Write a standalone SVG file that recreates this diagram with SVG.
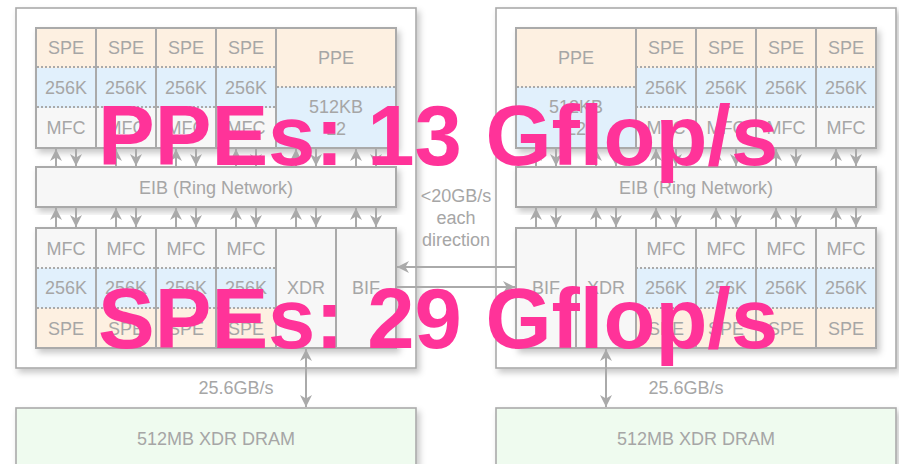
<svg xmlns="http://www.w3.org/2000/svg" width="899" height="464" viewBox="0 0 899 464">
<defs>
<filter id="sh" x="-10%" y="-10%" width="130%" height="130%">
<feDropShadow dx="3" dy="4" stdDeviation="3" flood-color="#000" flood-opacity="0.22"/>
</filter>
<marker id="ah" markerUnits="userSpaceOnUse" markerWidth="12" markerHeight="12" viewBox="0 0 10 10" refX="10" refY="5" orient="auto-start-reverse">
<path d="M0,0 L10,5 L0,10 L3,5 Z" fill="#aaaaaa"/>
</marker>
</defs>
<style>
.outer{fill:#fff;stroke:#aaaaaa;stroke-width:1.6}
.box{stroke:#aaaaaa;stroke-width:2}
.spe{fill:#fdf0e1}
.mem{fill:#e1f0fc}
.grey{fill:#f7f7f7}
.dram{fill:#effbef;stroke:#aaaaaa;stroke-width:1.6}
.dot{stroke:#aaaaaa;stroke-width:2;stroke-dasharray:2 2;fill:none}
.sep{stroke:#aaaaaa;stroke-width:2;fill:none}
.t{font-family:"Liberation Sans",Arial,sans-serif;font-size:18px;fill:#a6a6a6;text-anchor:middle}
.ar{stroke:#aaaaaa;stroke-width:2;fill:none;marker-end:url(#ah)}
.ar2{stroke:#aaaaaa;stroke-width:2;fill:none;marker-end:url(#ah);marker-start:url(#ah)}
.big{font-family:"Liberation Sans",Arial,sans-serif;font-size:85px;font-weight:bold;fill:#ff3399}
</style>

<!-- LEFT CHIP -->
<g id="chipL">
<rect class="outer" x="16" y="8" width="400" height="360" filter="url(#sh)"/>
</g>
<g id="topL">
<rect class="box grey" x="36" y="28" width="360" height="120" filter="url(#sh)"/>
<rect class="spe" x="36" y="28" width="240" height="40"/>
<rect class="mem" x="36" y="68" width="240" height="40"/>
<rect class="grey" x="36" y="108" width="240" height="40"/>
<rect class="spe" x="276" y="28" width="120" height="59"/>
<rect class="mem" x="276" y="87" width="120" height="61"/>
<line class="dot" x1="37" y1="67" x2="276" y2="67"/>
<line class="dot" x1="37" y1="107" x2="276" y2="107"/>
<line class="dot" x1="277" y1="87" x2="395" y2="87"/>
<path class="sep" d="M96,28V148M156,28V148M216,28V148M276,28V148"/>
<rect x="36" y="28" width="360" height="120" fill="none" stroke="#aaaaaa" stroke-width="2"/>
<text class="t" x="66" y="54">SPE</text><text class="t" x="126" y="54">SPE</text><text class="t" x="186" y="54">SPE</text><text class="t" x="246" y="54">SPE</text>
<text class="t" x="66" y="94">256K</text><text class="t" x="126" y="94">256K</text><text class="t" x="186" y="94">256K</text><text class="t" x="246" y="94">256K</text>
<text class="t" x="66" y="134">MFC</text><text class="t" x="126" y="134">MFC</text><text class="t" x="186" y="134">MFC</text><text class="t" x="246" y="134">MFC</text>
<text class="t" x="336" y="64">PPE</text>
<text class="t" x="336" y="113">512KB</text>
<text class="t" x="336" y="135">L2</text>
</g>
<g id="eibL">
<rect class="box grey" x="36" y="167" width="360" height="40" filter="url(#sh)"/>
<text class="t" x="216" y="194">EIB (Ring Network)</text>
</g>
<g id="botL">
<rect class="box grey" x="36" y="228" width="360" height="120" filter="url(#sh)"/>
<rect class="grey" x="36" y="228" width="240" height="40"/>
<rect class="mem" x="36" y="268" width="240" height="40"/>
<rect class="spe" x="36" y="308" width="240" height="40"/>
<line class="dot" x1="37" y1="268" x2="276" y2="268"/>
<line class="dot" x1="37" y1="308" x2="276" y2="308"/>
<path class="sep" d="M96,228V348M156,228V348M216,228V348M276,228V348M336,228V348"/>
<rect x="36" y="228" width="360" height="120" fill="none" stroke="#aaaaaa" stroke-width="2"/>
<text class="t" x="66" y="255">MFC</text><text class="t" x="126" y="255">MFC</text><text class="t" x="186" y="255">MFC</text><text class="t" x="246" y="255">MFC</text>
<text class="t" x="66" y="294">256K</text><text class="t" x="126" y="294">256K</text><text class="t" x="186" y="294">256K</text><text class="t" x="246" y="294">256K</text>
<text class="t" x="66" y="335">SPE</text><text class="t" x="126" y="335">SPE</text><text class="t" x="186" y="335">SPE</text><text class="t" x="246" y="335">SPE</text>
<text class="t" x="306" y="294">XDR</text>
<text class="t" x="366" y="294">BIF</text>
</g>
<g id="dramL">
<rect class="dram" x="16" y="408" width="400" height="70" filter="url(#sh)"/>
<text class="t" x="216" y="445">512MB XDR DRAM</text>
</g>

<!-- RIGHT CHIP -->
<g id="chipR">
<rect class="outer" x="496" y="8" width="400" height="360" filter="url(#sh)"/>
</g>
<g id="topR">
<rect class="box grey" x="516" y="28" width="360" height="120" filter="url(#sh)"/>
<rect class="spe" x="636" y="28" width="240" height="40"/>
<rect class="mem" x="636" y="68" width="240" height="40"/>
<rect class="grey" x="636" y="108" width="240" height="40"/>
<rect class="spe" x="516" y="28" width="120" height="59"/>
<rect class="mem" x="516" y="87" width="120" height="61"/>
<line class="dot" x1="636" y1="67" x2="875" y2="67"/>
<line class="dot" x1="636" y1="107" x2="875" y2="107"/>
<line class="dot" x1="517" y1="87" x2="636" y2="87"/>
<path class="sep" d="M636,28V148M696,28V148M756,28V148M816,28V148"/>
<rect x="516" y="28" width="360" height="120" fill="none" stroke="#aaaaaa" stroke-width="2"/>
<text class="t" x="666" y="54">SPE</text><text class="t" x="726" y="54">SPE</text><text class="t" x="786" y="54">SPE</text><text class="t" x="846" y="54">SPE</text>
<text class="t" x="666" y="94">256K</text><text class="t" x="726" y="94">256K</text><text class="t" x="786" y="94">256K</text><text class="t" x="846" y="94">256K</text>
<text class="t" x="666" y="134">MFC</text><text class="t" x="726" y="134">MFC</text><text class="t" x="786" y="134">MFC</text><text class="t" x="846" y="134">MFC</text>
<text class="t" x="576" y="64">PPE</text>
<text class="t" x="576" y="113">512KB</text>
<text class="t" x="576" y="135">L2</text>
</g>
<g id="eibR">
<rect class="box grey" x="516" y="167" width="360" height="40" filter="url(#sh)"/>
<text class="t" x="696" y="194">EIB (Ring Network)</text>
</g>
<g id="botR">
<rect class="box grey" x="516" y="228" width="360" height="120" filter="url(#sh)"/>
<rect class="grey" x="636" y="228" width="240" height="40"/>
<rect class="mem" x="636" y="268" width="240" height="40"/>
<rect class="spe" x="636" y="308" width="240" height="40"/>
<line class="dot" x1="636" y1="268" x2="875" y2="268"/>
<line class="dot" x1="636" y1="308" x2="875" y2="308"/>
<path class="sep" d="M576,228V348M636,228V348M696,228V348M756,228V348M816,228V348"/>
<rect x="516" y="228" width="360" height="120" fill="none" stroke="#aaaaaa" stroke-width="2"/>
<text class="t" x="666" y="255">MFC</text><text class="t" x="726" y="255">MFC</text><text class="t" x="786" y="255">MFC</text><text class="t" x="846" y="255">MFC</text>
<text class="t" x="666" y="294">256K</text><text class="t" x="726" y="294">256K</text><text class="t" x="786" y="294">256K</text><text class="t" x="846" y="294">256K</text>
<text class="t" x="666" y="335">SPE</text><text class="t" x="726" y="335">SPE</text><text class="t" x="786" y="335">SPE</text><text class="t" x="846" y="335">SPE</text>
<text class="t" x="546" y="294">BIF</text>
<text class="t" x="606" y="294">XDR</text>
</g>
<g id="dramR">
<rect class="dram" x="496" y="408" width="400" height="70" filter="url(#sh)"/>
<text class="t" x="696" y="445">512MB XDR DRAM</text>
</g>

<!-- CONNECTORS -->
<g id="connectors">
<!-- left top box <-> EIB -->
<path class="ar" d="M56,167V149"/><path class="ar" d="M76,148V166"/>
<path class="ar" d="M116,167V149"/><path class="ar" d="M136,148V166"/>
<path class="ar" d="M176,167V149"/><path class="ar" d="M196,148V166"/>
<path class="ar" d="M236,167V149"/><path class="ar" d="M256,148V166"/>
<path class="ar" d="M296,167V149"/><path class="ar" d="M316,148V166"/>
<path class="ar" d="M356,167V149"/><path class="ar" d="M376,148V166"/>
<!-- left EIB <-> bottom box -->
<path class="ar" d="M56,228V208"/><path class="ar" d="M76,207V227"/>
<path class="ar" d="M116,228V208"/><path class="ar" d="M136,207V227"/>
<path class="ar" d="M176,228V208"/><path class="ar" d="M196,207V227"/>
<path class="ar" d="M236,228V208"/><path class="ar" d="M256,207V227"/>
<path class="ar" d="M296,228V208"/><path class="ar" d="M316,207V227"/>
<path class="ar" d="M356,228V208"/><path class="ar" d="M376,207V227"/>
<!-- right top box <-> EIB -->
<path class="ar" d="M536,167V149"/><path class="ar" d="M556,148V166"/>
<path class="ar" d="M596,167V149"/><path class="ar" d="M616,148V166"/>
<path class="ar" d="M656,167V149"/><path class="ar" d="M676,148V166"/>
<path class="ar" d="M716,167V149"/><path class="ar" d="M736,148V166"/>
<path class="ar" d="M776,167V149"/><path class="ar" d="M796,148V166"/>
<path class="ar" d="M836,167V149"/><path class="ar" d="M856,148V166"/>
<!-- right EIB <-> bottom box -->
<path class="ar" d="M536,228V208"/><path class="ar" d="M556,207V227"/>
<path class="ar" d="M596,228V208"/><path class="ar" d="M616,207V227"/>
<path class="ar" d="M656,228V208"/><path class="ar" d="M676,207V227"/>
<path class="ar" d="M716,228V208"/><path class="ar" d="M736,207V227"/>
<path class="ar" d="M776,228V208"/><path class="ar" d="M796,207V227"/>
<path class="ar" d="M836,228V208"/><path class="ar" d="M856,207V227"/>
<!-- BIF <-> BIF -->
<path class="ar" d="M516,267H397"/>
<path class="ar" d="M396,287H515"/>
<!-- XDR <-> DRAM -->
<path class="ar2" d="M306,349V407"/>
<path class="ar2" d="M606,349V407"/>
</g>
<g id="labels">
<text class="t" x="456" y="202">&lt;20GB/s</text>
<text class="t" x="456" y="224">each</text>
<text class="t" x="456" y="246">direction</text>
<text class="t" x="236" y="394">25.6GB/s</text>
<text class="t" x="686" y="394">25.6GB/s</text>
</g>
<g id="overlay">
<text class="big" x="98" y="165">PPEs: 13 Gflop/s</text>
<text class="big" x="98" y="348">SPEs: 29 Gflop/s</text>
</g>
</svg>
